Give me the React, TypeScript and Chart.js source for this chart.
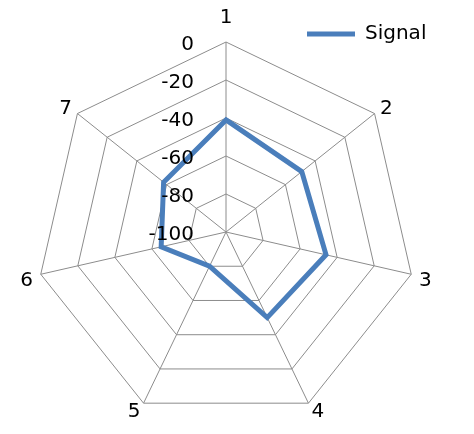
import React, { useEffect, useRef } from 'react';
import { Chart, registerables } from 'chart.js';

Chart.register(...registerables);

const categories = ['1', '2', '3', '4', '5', '6', '7'];
const signal = [-41, -49, -46, -50, -80, -65, -58];
const tickValues = [0, -20, -40, -60, -80, -100];

const FONT = 'DejaVu Sans';

// per label tweaks so the numbers sit near their corners like in Excel
const labelPad = [9, 7, 8, 7, 7, 8, 7];
const labelLine = ['30px', '1px', '9px', '4px', '4px', '9px', '1px'];

// radial tick labels sit left of the vertical axis, right aligned (Excel style)
const sideTicks = {
  id: 'sideTicks',
  afterDatasetsDraw(chart: any) {
    const scale = chart.scales.r;
    const ctx = chart.ctx;
    ctx.save();
    ctx.font = `20px "${FONT}"`;
    ctx.fillStyle = '#000';
    ctx.textAlign = 'right';
    ctx.textBaseline = 'middle';
    tickValues.forEach((v) => {
      const d = scale.getDistanceFromCenterForValue(v);
      ctx.fillText(String(v), scale.xCenter - 32, scale.yCenter - d + 3);
    });
    ctx.restore();
  },
};

// put the legend box in the top right corner, over the plot
const legendCorner = {
  id: 'legendCorner',
  afterLayout(chart: any) {
    const lg = chart.legend;
    if (!lg) return;
    lg.left = 309;
    lg.top = 40;
    lg.right = lg.left + Math.max(lg.width, 160);
    lg.bottom = lg.top + Math.max(lg.height, 30);
    lg.width = lg.right - lg.left;
    lg.height = lg.bottom - lg.top;
  },
};

const App: React.FC = () => {
  const chartRef = useRef<HTMLCanvasElement | null>(null);

  useEffect(() => {
    if (!chartRef.current) return;
    const chart = new Chart(chartRef.current, {
      type: 'radar',
      data: {
        labels: categories,
        datasets: [
          {
            label: 'Signal',
            data: signal,
            borderColor: '#4a7ebb',
            backgroundColor: '#4a7ebb',
            borderWidth: 5,
            fill: false,
            pointRadius: 0,
            tension: 0,
          },
        ],
      },
      options: {
        animation: false,
        responsive: true,
        maintainAspectRatio: false,
        layout: { padding: { top: 0, bottom: 0, left: 0, right: 18 } },
        scales: {
          r: {
            min: -100,
            max: 0,
            ticks: { display: false, stepSize: 20 },
            grid: { color: '#8c8c8c', lineWidth: 1 },
            angleLines: { color: '#8c8c8c', lineWidth: 1 },
            pointLabels: {
              color: '#000',
              font: (ctx: any) => ({ family: FONT, size: 20, lineHeight: labelLine[ctx.index] }),
              padding: (ctx: any) => labelPad[ctx.index],
            },
          },
        },
        plugins: {
          legend: {
            position: 'chartArea',
            align: 'start',
            labels: {
              usePointStyle: true,
              pointStyle: 'line',
              pointStyleWidth: 48,
              padding: 0,
              color: '#000',
              font: { family: FONT, size: 20 },
            },
          },
          tooltip: { enabled: false },
        },
      },
      plugins: [sideTicks, legendCorner],
    });
    return () => chart.destroy();
  }, []);

  return (
    <div style={{ position: 'fixed', left: 0, top: 0, width: 474, height: 434, overflow: 'hidden', background: '#fff' }}>
      <div style={{ position: 'absolute', left: -2, top: -16, width: 476, height: 458 }}>
        <canvas ref={chartRef} />
      </div>
    </div>
  );
};

export default App;
